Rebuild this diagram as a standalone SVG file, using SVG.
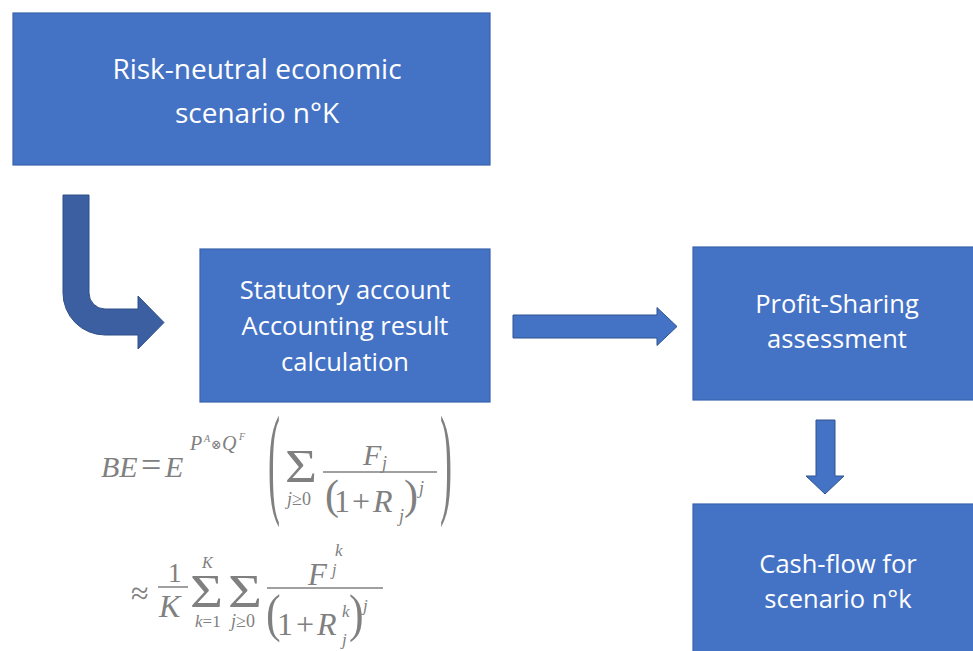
<svg xmlns="http://www.w3.org/2000/svg" width="973" height="651" viewBox="0 0 973 651">
  <style>
    .box { fill: #4472C4; stroke: #3A63AE; stroke-width: 1.2; }
    .lbl { font-family: "Open Sans", "Noto Sans", sans-serif; fill: #FFFFFF; text-anchor: middle; }
    .arrow { fill: #4472C4; stroke: #2F528F; stroke-width: 1; }
    .bent { fill: #3C5FA1; stroke: #2F4F8A; stroke-width: 1; }
    .m { font-family: "Liberation Serif", "DejaVu Serif", serif; fill: #808080; }
    .i { font-style: italic; }
    .bar { stroke: #808080; stroke-width: 1.5; }
  </style>
  <rect width="973" height="651" fill="#FFFFFF"/>

  <!-- connectors -->
  <g id="connectors">
    <path class="bent" d="M 63 195 L 89 195 L 89 293 A 16 16 0 0 0 105 309 L 138 309 L 138 296 L 164 322.5 L 138 349 L 138 335 L 105 335 A 42 42 0 0 1 63 293 Z"/>
    <path class="arrow" d="M 513 315 L 657 315 L 657 307.5 L 677 326.5 L 657 345.5 L 657 338 L 513 338 Z"/>
    <path class="arrow" d="M 816 420 L 835 420 L 835 476 L 844 476 L 825 494 L 806 476 L 816 476 Z"/>
  </g>

  <!-- scenario generator -->
  <g id="node-scenario">
    <rect class="box" x="13" y="13" width="477" height="152"/>
    <text class="lbl" font-size="28" x="257" y="79">Risk-neutral economic</text>
    <text class="lbl" font-size="28" x="257" y="123">scenario n°K</text>
  </g>

  <!-- statutory account -->
  <g id="node-statutory">
    <rect class="box" x="200" y="249" width="290" height="153"/>
    <text class="lbl" font-size="25.5" x="345" y="299">Statutory account</text>
    <text class="lbl" font-size="25.5" x="345" y="335">Accounting result</text>
    <text class="lbl" font-size="25.5" x="345" y="371">calculation</text>
  </g>

  <!-- profit sharing -->
  <g id="node-profit-sharing">
    <rect class="box" x="693" y="247" width="290" height="153"/>
    <text class="lbl" font-size="25.5" x="837" y="313">Profit-Sharing</text>
    <text class="lbl" font-size="25.5" x="837" y="348">assessment</text>
  </g>

  <!-- cash flow -->
  <g id="node-cashflow">
    <rect class="box" x="693" y="504" width="290" height="160"/>
    <text class="lbl" font-size="25.5" x="838" y="573">Cash-flow for</text>
    <text class="lbl" font-size="25.5" x="838" y="608">scenario n°k</text>
  </g>

  <!-- best estimate formula -->
  <g id="formula">
    <!-- line 1 -->
    <text class="m i" font-size="30" x="101" y="477">BE</text>
    <text class="m" font-size="36" x="141" y="477">=</text>
    <text class="m i" font-size="30" x="165" y="477">E</text>
    <text class="m i" font-size="20" x="190" y="450">P</text>
    <text class="m i" font-size="10" x="204" y="442">A</text>
    <text class="m" font-size="13" x="211" y="449">⊗</text>
    <text class="m i" font-size="20" x="222" y="450">Q</text>
    <text class="m i" font-size="10" x="239" y="440">F</text>
    <text class="m" font-size="36" transform="translate(268,501) scale(1,3.4)">(</text>
    <text class="m" font-size="46" x="285" y="482" textLength="32" lengthAdjust="spacingAndGlyphs">Σ</text>
    <text class="m" font-size="18" x="287" y="505"><tspan class="i">j</tspan>≥0</text>
    <text class="m i" font-size="30" x="363" y="465">F</text>
    <text class="m i" font-size="18" x="382" y="469">j</text>
    <line class="bar" x1="323" y1="472" x2="437" y2="472"/>
    <text class="m" font-size="42" x="325" y="509">(</text>
    <text class="m" font-size="32" x="334" y="512">1</text>
    <text class="m" font-size="32" x="352" y="512">+</text>
    <text class="m i" font-size="32" x="373" y="512">R</text>
    <text class="m i" font-size="18" x="399" y="522">j</text>
    <text class="m" font-size="42" x="404" y="509">)</text>
    <text class="m i" font-size="18" x="419" y="494">j</text>
    <text class="m" font-size="36" transform="translate(440,501) scale(1,3.4)">)</text>

    <!-- line 2 -->
    <text class="m" font-size="32" x="131" y="604">≈</text>
    <text class="m" font-size="27" x="168" y="582">1</text>
    <line class="bar" x1="158" y1="587" x2="188" y2="587"/>
    <text class="m i" font-size="32" x="159" y="617">K</text>
    <text class="m" font-size="46" x="190" y="607" textLength="33" lengthAdjust="spacingAndGlyphs">Σ</text>
    <text class="m i" font-size="16" x="202" y="568">K</text>
    <text class="m" font-size="17" x="195" y="627"><tspan class="i">k</tspan>=1</text>
    <text class="m" font-size="46" x="228" y="607" textLength="34" lengthAdjust="spacingAndGlyphs">Σ</text>
    <text class="m" font-size="18" x="231" y="627"><tspan class="i">j</tspan>≥0</text>
    <text class="m i" font-size="31" x="308" y="585">F</text>
    <text class="m i" font-size="17" x="335" y="556">k</text>
    <text class="m i" font-size="16" x="332" y="575">j</text>
    <line class="bar" x1="267" y1="588" x2="383" y2="588"/>
    <text class="m" font-size="44" transform="translate(266,631) scale(1,1.2)">(</text>
    <text class="m" font-size="32" x="277" y="635">1</text>
    <text class="m" font-size="32" x="296" y="635">+</text>
    <text class="m i" font-size="32" x="317" y="635">R</text>
    <text class="m i" font-size="17" x="342" y="617">k</text>
    <text class="m i" font-size="17" x="342" y="645">j</text>
    <text class="m" font-size="44" transform="translate(349,631) scale(1,1.2)">)</text>
    <text class="m i" font-size="17" x="363" y="611">j</text>
  </g>
</svg>
